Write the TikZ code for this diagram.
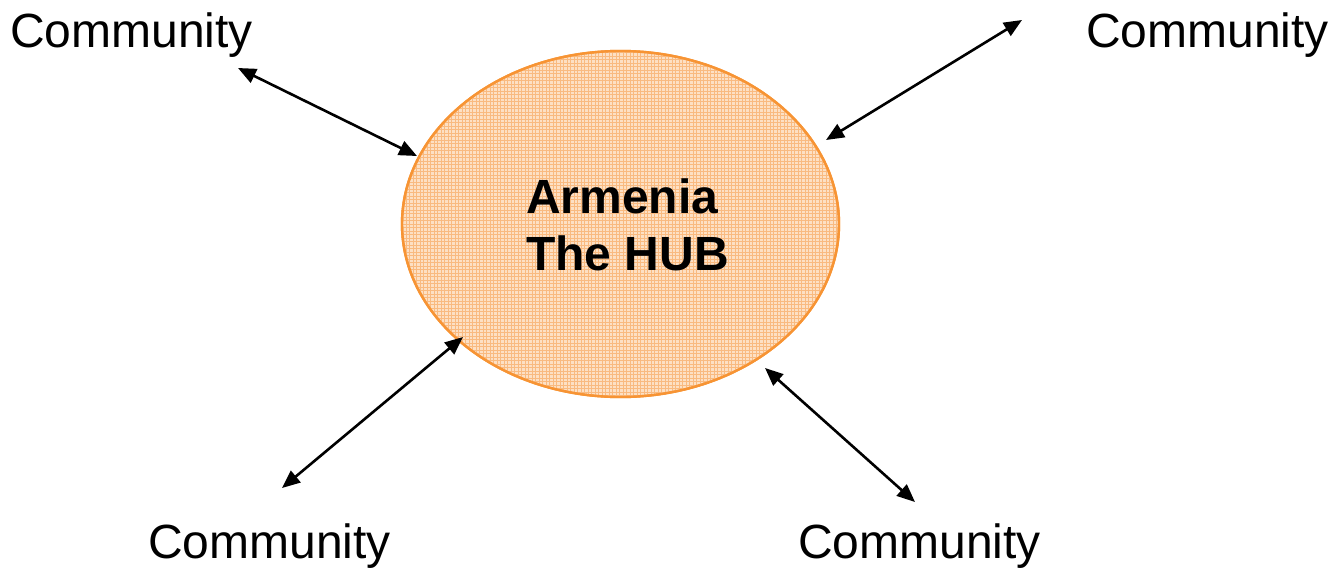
\documentclass[tikz,border=0pt]{standalone}
\usepackage{fontspec}
\setmainfont{Liberation Sans}
\usetikzlibrary{arrows.meta,shapes.geometric}
\definecolor{hubline}{RGB}{247,148,52}
\definecolor{hubfill}{RGB}{253,224,196}
\definecolor{hubgrid}{RGB}{249,186,128}
\tikzset{
  x=1pt, y=-1pt,
  hub/.style={ellipse, draw=hubline, line width=2.4pt, fill=hubfill,
    minimum width=437pt, minimum height=346pt, inner sep=0pt},
  hubtext/.style={font=\fontsize{48}{57}\selectfont\bfseries, inner sep=0pt, anchor=base west},
  commlabel/.style={font=\fontsize{48}{57}\selectfont, inner sep=0pt, anchor=base west},
  link/.style={line width=2.6pt, {Triangle[length=18pt,width=15pt]}-{Triangle[length=18pt,width=15pt]}}
}
\begin{document}
\begin{tikzpicture}
  \useasboundingbox (0,0) rectangle (1332,568);
  % the hub and its fine grid texture
  \node[hub] (hub) at (620.5,224) {};
  \begin{scope}
    \clip (620.5,224) ellipse [x radius=217.5, y radius=172];
    \draw[hubgrid, line width=0.3pt, step=3.5pt] (400,50) grid (842,400);
  \end{scope}
  \draw[hubline, line width=2.4pt] (hub.center) ellipse [x radius=218.5, y radius=173];
  \node[hubtext] (armenia) at (526,213) {Armenia};
  \node[hubtext] (thehub) at (526,270) {The HUB};
  % the four communities
  \node[commlabel] (ctl) at (10,47) {Community};
  \node[commlabel] (ctr) at (1086,47) {Community};
  \node[commlabel] (cbl) at (148,558) {Community};
  \node[commlabel] (cbr) at (798,558) {Community};
  % arrow ends beside each community and on the hub's rim
  \coordinate (etl) at (238,68);
  \coordinate (etr) at (1022,20);
  \coordinate (ebl) at (282,488);
  \coordinate (ebr) at (915,502);
  \coordinate (htl) at (417,156);
  \coordinate (htr) at (826,140);
  \coordinate (hbl) at (463,337);
  \coordinate (hbr) at (765,368);
  \draw[link] (etl) -- (htl);
  \draw[link] (etr) -- (htr);
  \draw[link] (ebl) -- (hbl);
  \draw[link] (ebr) -- (hbr);
\end{tikzpicture}
\end{document}
